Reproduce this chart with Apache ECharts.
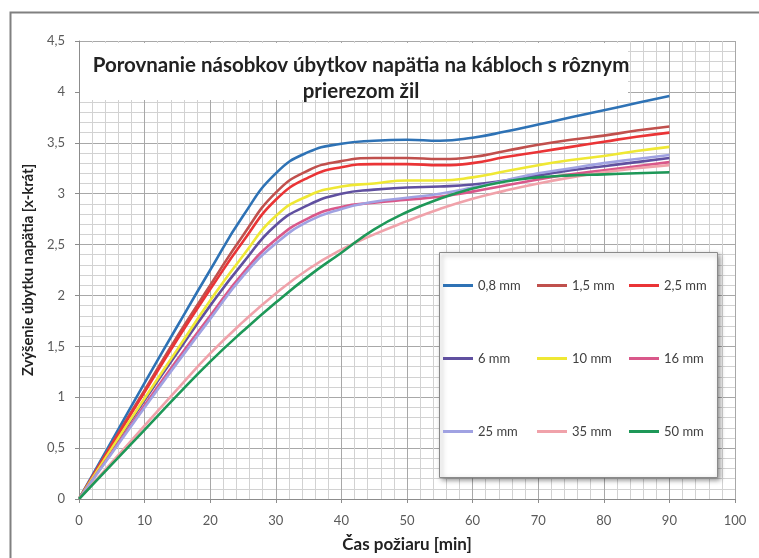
<!DOCTYPE html>
<html>
<head>
<meta charset="utf-8">
<script src="https://cdn.jsdelivr.net/npm/echarts@6/dist/echarts.min.js"></script>
<style>html,body{margin:0;padding:0;background:#fff;}#c{width:759px;height:558px;}</style>
</head>
<body>
<div id="c"></div>
<script>
var titleText = 'Porovnanie násobkov úbytkov napätia na kábloch s rôznym\nprierezom žil';
var xName = 'Čas požiaru [min]';
var yName = 'Zvýšenie úbytku napätia [x-krát]';
var times = [0,5,10,15,20,25,30,35,40,45,50,55,60,65,70,75,80,85,90];
var seriesNames = ['0,8 mm','1,5 mm','2,5 mm','6 mm','10 mm','16 mm','25 mm','35 mm','50 mm'];
var s08 = [0,0.57,1.14,1.70,2.25,2.78,3.20,3.41,3.49,3.52,3.53,3.52,3.55,3.61,3.68,3.75,3.82,3.89,3.96];
var s15 = [0,0.54,1.07,1.60,2.10,2.59,3.01,3.23,3.32,3.35,3.35,3.34,3.36,3.42,3.48,3.53,3.57,3.62,3.66];
var s25 = [0,0.53,1.05,1.57,2.06,2.53,2.94,3.16,3.26,3.29,3.29,3.28,3.30,3.36,3.41,3.46,3.51,3.56,3.60];
var s6  = [0,0.49,0.97,1.44,1.90,2.32,2.69,2.89,3.00,3.04,3.06,3.07,3.09,3.13,3.18,3.23,3.27,3.31,3.35];
var s10 = [0,0.50,0.99,1.47,1.95,2.39,2.78,2.98,3.07,3.10,3.13,3.13,3.16,3.22,3.28,3.33,3.37,3.42,3.46];
var s16 = [0,0.46,0.92,1.37,1.80,2.22,2.55,2.76,2.87,2.91,2.94,2.97,3.02,3.08,3.14,3.19,3.23,3.27,3.31];
var s25b= [0,0.45,0.90,1.34,1.77,2.19,2.51,2.73,2.85,2.92,2.96,3.00,3.06,3.13,3.20,3.25,3.30,3.34,3.38];
var s35 = [0,0.36,0.72,1.08,1.43,1.74,2.02,2.26,2.45,2.60,2.73,2.85,2.95,3.03,3.10,3.16,3.21,3.25,3.28];
var s50 = [0,0.34,0.68,1.02,1.35,1.65,1.93,2.19,2.42,2.65,2.82,2.95,3.05,3.12,3.16,3.18,3.19,3.20,3.21];
var seriesValues = [s08,s15,s25,s6,s10,s16,s25b,s35,s50];
var colors = ['#2e72b5','#c0504d','#ea3436','#6050a0','#efe834','#d9588a','#a0a2e2','#f0a2aa','#1e9858'];

var FONT = 'Lato, "Liberation Sans", sans-serif';
var chart = echarts.init(document.getElementById('c'));

var series = seriesNames.map(function(n,i){
  return {
    name: n, type: 'line', smooth: true, symbol: 'none',
    lineStyle: {width: 2.6, color: colors[i]},
    itemStyle: {color: colors[i]},
    z: 2,
    data: times.map(function(t,k){return [t, seriesValues[i][k]];})
  };
});

function legendCol(names, left){
  return {
    data: names, orient: 'vertical', left: left, top: 274, itemGap: 60,
    icon: 'rect', itemWidth: 30, itemHeight: 3,
    textStyle: {fontFamily: FONT, fontSize: 13, color: '#404040'},
    z: 10
  };
}

var fmt = function(v){ return String(v).replace('.', ','); };

chart.setOption({
  animation: false,
  backgroundColor: '#fff',
  title: {
    text: titleText, left: 356, top: 47, textAlign: 'center',
    textStyle: {fontFamily: FONT, fontSize: 20.5, fontWeight: 'bold', color: '#222', lineHeight: 26},
    z: 10
  },
  legend: [
    legendCol(['0,8 mm','6 mm','25 mm'], 438),
    legendCol(['1,5 mm','10 mm','35 mm'], 532),
    legendCol(['2,5 mm','16 mm','50 mm'], 624)
  ],
  grid: {left: 79, right: 24, top: 41, bottom: 58},
  xAxis: {
    type: 'value', min: 0, max: 100, interval: 10,
    name: xName, nameLocation: 'middle', nameGap: 37,
    nameTextStyle: {fontFamily: FONT, fontSize: 17, fontWeight: 'bold', color: '#222'},
    axisLine: {lineStyle: {color: '#8c8c8c'}},
    axisTick: {show: true, length: 4, lineStyle: {color: '#8c8c8c'}},
    axisLabel: {fontFamily: FONT, fontSize: 13, color: '#5a5a5a', margin: 15},
    splitLine: {show: true, lineStyle: {color: '#a8a8a8', width: 1}},
    minorTick: {show: false, splitNumber: 5},
    minorSplitLine: {show: true, lineStyle: {color: '#d2d2d2', width: 1}}
  },
  yAxis: {
    type: 'value', min: 0, max: 4.5, interval: 0.5,
    name: yName, nameLocation: 'middle', nameGap: 35, nameRotate: 90,
    nameTextStyle: {fontFamily: FONT, fontSize: 14.8, fontWeight: 'bold', color: '#222'},
    axisLine: {show: true, lineStyle: {color: '#8c8c8c'}},
    axisTick: {show: true, length: 4, lineStyle: {color: '#8c8c8c'}},
    axisLabel: {fontFamily: FONT, fontSize: 13, color: '#5a5a5a', margin: 14, formatter: fmt},
    splitLine: {show: true, lineStyle: {color: '#a8a8a8', width: 1}},
    minorTick: {show: false, splitNumber: 5},
    minorSplitLine: {show: true, lineStyle: {color: '#d2d2d2', width: 1}}
  },
  graphic: [
    {type: 'rect', left: 8, top: 10, z: 100, silent: true,
     shape: {width: 800, height: 600},
     style: {fill: 'none', stroke: '#808080', lineWidth: 2}},
    {type: 'rect', left: 80, top: 43, z: 5, silent: true,
     shape: {width: 548, height: 57},
     style: {fill: '#ffffff'}},
    {type: 'rect', left: 439, top: 252, z: 5, silent: true,
     shape: {width: 278, height: 225},
     style: {fill: '#ffffff', stroke: '#8a8a8a', lineWidth: 1,
             shadowBlur: 5, shadowOffsetX: 2, shadowOffsetY: 2, shadowColor: 'rgba(0,0,0,0.45)'}}
  ],
  series: series
});
</script>
</body>
</html>
